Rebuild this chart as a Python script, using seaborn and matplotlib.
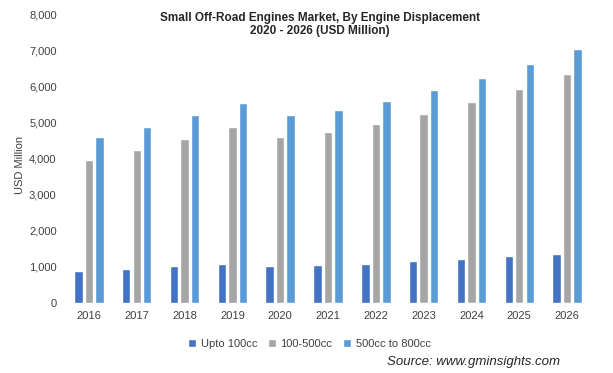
import matplotlib
matplotlib.use("Agg")
import matplotlib.pyplot as plt
import seaborn as sns
import pandas as pd
from matplotlib.ticker import FuncFormatter

years = ["2016", "2017", "2018", "2019", "2020", "2021", "2022", "2023", "2024", "2025", "2026"]
upto_100cc = [890, 945, 1030, 1085, 1030, 1055, 1085, 1165, 1220, 1305, 1360]
cc_100_500 = [3970, 4250, 4555, 4890, 4610, 4750, 4970, 5250, 5580, 5940, 6360]
cc_500_800 = [4610, 4890, 5220, 5555, 5220, 5360, 5610, 5920, 6250, 6640, 7055]
series_names = ["Upto 100cc", "100-500cc", "500cc to 800cc"]
colors = ["#4472C4", "#A5A5A5", "#5B9BD5"]

rows = []
for name, vals in zip(series_names, [upto_100cc, cc_100_500, cc_500_800]):
    for y, v in zip(years, vals):
        rows.append({"Year": y, "Segment": name, "Value": v})
df = pd.DataFrame(rows)

sns.set_theme(style="white")
plt.rcParams['font.family'] = ['Liberation Sans', 'DejaVu Sans']

fig = plt.figure(figsize=(6.13, 3.73), dpi=100)
ax = fig.add_axes([65/613, 1 - 303/373, 526/613, 288/373])

sns.barplot(data=df, x="Year", y="Value", hue="Segment", palette=colors,
            width=0.66, gap=0.2, ax=ax, legend=True, saturation=1)

ax.set_ylim(0, 8000)
ax.set_xlim(-0.5, 10.5)
ax.set_yticks(range(0, 8001, 1000))
ax.yaxis.set_major_formatter(FuncFormatter(lambda v, p: f"{int(v):,}"))
for s in ax.spines.values():
    s.set_visible(False)
ax.tick_params(axis='both', length=0, labelsize=8, colors="#404040", pad=6)
ax.set_xlabel("")
ax.set_ylabel("USD Million", fontsize=8, color="#404040")
ax.yaxis.set_label_coords((25 - 65) / 526, 0.48)

ax.legend(loc="upper center", bbox_to_anchor=(0.465, -0.09), ncol=3, frameon=False,
          fontsize=8, handlelength=0.7, handleheight=0.7, handletextpad=0.4,
          columnspacing=1.0, labelcolor="#404040")

fig.text(320/613, 1 - 12/373, "Small Off-Road Engines Market, By Engine Displacement\n2020 - 2026 (USD Million)",
         ha="center", va="top", fontsize=8.5, fontweight="bold", color="#262626",
         family=['Liberation Sans Narrow', 'Liberation Sans'], linespacing=1.15)

fig.text(560/613, 1 - 362/373, "Source: www.gminsights.com", ha="right", va="center",
         fontsize=9.5, style="italic", color="#262626")

fig.savefig("out.png", dpi=100)
